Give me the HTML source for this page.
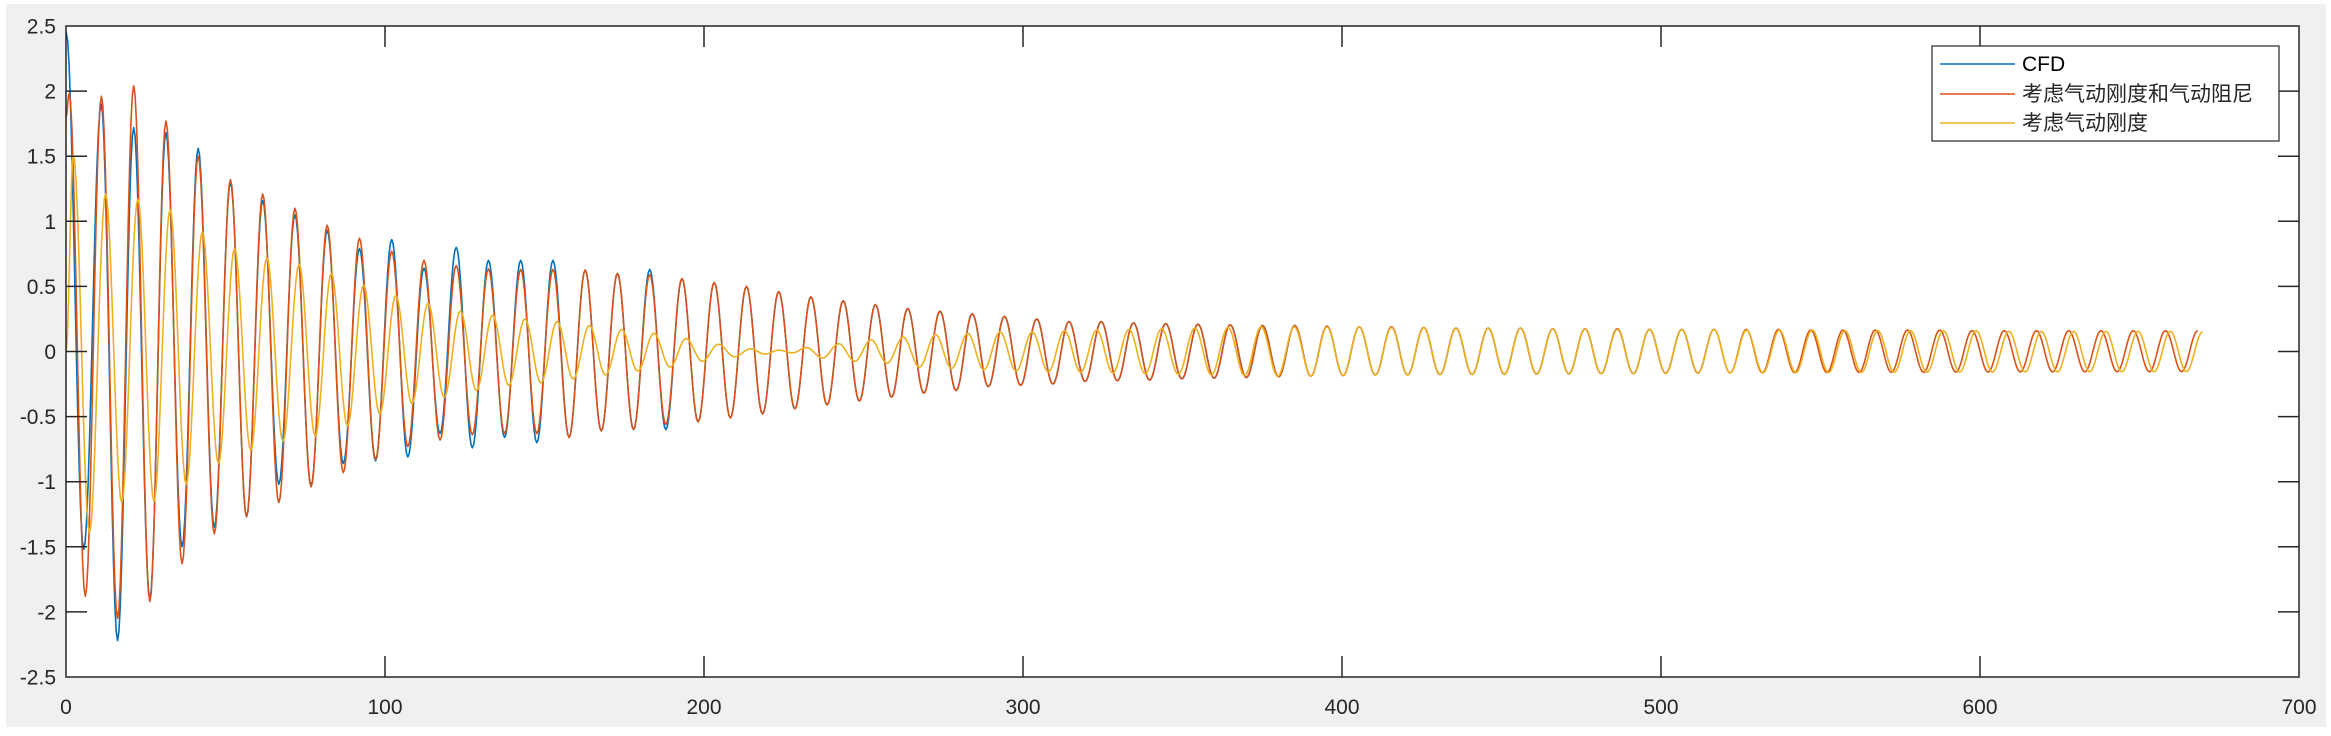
<!DOCTYPE html>
<html><head><meta charset="utf-8"><style>
html,body{margin:0;padding:0;background:#fff;}
svg{display:block;}
text{font-family:"Liberation Sans","Noto Sans CJK SC",sans-serif;}
</style></head><body>
<svg id="chart" width="2331" height="736" viewBox="0 0 2331 736" xmlns="http://www.w3.org/2000/svg">
<rect x="6" y="4" width="2320" height="723" fill="#f0f0f0"/>
<rect x="66" y="26" width="2233" height="651" fill="#fff"/>
<g id="series"></g>
<g id="axes"></g>
<g id="legend">
<rect x="1932" y="46" width="347" height="95" fill="#fff" stroke="#262626" stroke-width="1.2"/>
<line x1="1940" y1="64" x2="2015" y2="64" stroke="#0072BD" stroke-width="1.6"/>
<text x="2022" y="71" font-size="21" fill="#000">CFD</text>
<line x1="1940" y1="94" x2="2015" y2="94" stroke="#D95319" stroke-width="1.6"/>
<text x="2022" y="101" font-size="21" fill="#262626">考虑气动刚度和气动阻尼</text>
<line x1="1940" y1="123" x2="2015" y2="123" stroke="#EDB120" stroke-width="1.6"/>
<text x="2022" y="130" font-size="21" fill="#262626">考虑气动刚度</text>
</g>
</svg>
<script>
// ---- data ----
const xTicks = [0,100,200,300,400,500,600,700];
const yTicks = [-2.5,-2,-1.5,-1,-0.5,0,0.5,1,1.5,2,2.5];
const yTickLabels = ["-2.5","-2","-1.5","-1","-0.5","0","0.5","1","1.5","2","2.5"];
const period = 10.11;
const firstPeak = 1.0;
const tEnd = 670.5;

const redStart = [0, 1.80];
const redPeaks = [1.98,1.96,2.04,1.77,1.50,1.32,1.21,1.10,0.97,0.87,0.77,
 0.70,0.66,0.635,0.63,0.63,0.625,0.60,0.59,0.56,0.53,0.50,0.46,0.42,0.39,0.36,0.33,0.31,0.29,0.27,0.25,0.23,
 0.23,0.22,0.215,0.21,0.205,0.20,0.20,0.195,0.19,0.19,0.185,0.18,0.18,0.18,0.175,0.175,0.175,0.17,0.17,0.17,0.17,0.17,0.165,0.165,0.165,0.165,0.165,0.16,0.16,0.16,0.16,0.16,0.16,0.16,0.16];
const redTroughs = [-1.88,-2.05,-1.92,-1.63,-1.40,-1.27,-1.16,-1.04,-0.93,-0.83,
 -0.73,-0.68,-0.64,-0.63,-0.63,-0.66,-0.61,-0.60,-0.56,-0.54,-0.51,-0.48,-0.44,-0.41,-0.38,-0.35,-0.32,-0.30,-0.27,-0.26,-0.25,-0.23,
 -0.225,-0.22,-0.21,-0.205,-0.20,-0.195,-0.19,-0.185,-0.18,-0.18,-0.178,-0.176,-0.175,-0.174,-0.172,-0.17,-0.17,-0.168,-0.166,-0.165,-0.164,-0.163,-0.162,-0.161,-0.16,-0.16,-0.158,-0.158,-0.157,-0.157,-0.156,-0.156,-0.156,-0.155];
const redLagT = [0, 700];
const redLagV = [0, 0];

const blueStart = [0, 2.45];
const bluePeaks = [2.45,1.90,1.72,1.68,1.56,1.30,1.16,1.05,0.93,0.79,0.86,0.64,0.80,0.70,0.70,0.70,0.625,0.60,0.63,
 0.56,0.53,0.50,0.46,0.42,0.39,0.36,0.33,0.31,0.29,0.27,0.25,0.23,0.23,0.22,0.215,0.21,0.205,0.20,0.20,0.195,0.19,0.19,0.185,0.18,0.18,0.18,0.175,0.175,0.175,0.17,0.17,0.17];
const blueTroughs = [-1.52,-2.22,-1.90,-1.50,-1.35,-1.27,-1.02,-1.03,-0.86,-0.84,-0.81,-0.63,-0.74,-0.66,-0.70,-0.66,-0.61,-0.60,-0.60,
 -0.54,-0.51,-0.48,-0.44,-0.41,-0.38,-0.35,-0.32,-0.30,-0.27,-0.26,-0.25,-0.23,-0.225,-0.22,-0.21,-0.205,-0.20,-0.195,-0.19,-0.185,-0.18,-0.18,-0.178,-0.176,-0.175,-0.174,-0.172,-0.17,-0.17,-0.168,-0.166];
const blueLagT = [0, 12, 700];
const blueLagV = [-1.0, 0, 0];
const blueEnd = 520;

const yellowStart = [0, 0];
const yellowPeaks = [1.51,1.21,1.17,1.09,0.92,0.79,0.72,0.67,0.60,0.51,0.43,0.37,0.31,
 0.28,0.25,0.23,0.20,0.17,0.14,0.10,0.055,0.02,0.01,0.03,0.06,0.09,0.11,0.13,0.14,0.15,0.15,0.16,
 0.165,0.17,0.175,0.18,0.185,0.19,0.19,0.19,0.19,0.185,0.185,0.18,0.18,0.18,0.175,0.175,0.17,0.17,0.17,0.17,0.165,0.165,0.165,0.16,0.16,0.16,0.16,0.16,0.155,0.155,0.155,0.155,0.155,0.155,0.15];
const yellowTroughs = [-1.39,-1.16,-1.15,-1.02,-0.86,-0.76,-0.69,-0.65,-0.57,-0.48,-0.40,-0.35,
 -0.30,-0.26,-0.24,-0.21,-0.18,-0.15,-0.12,-0.075,-0.04,-0.02,-0.01,-0.05,-0.075,-0.09,-0.12,-0.13,-0.14,-0.15,-0.156,-0.16,
 -0.165,-0.17,-0.175,-0.18,-0.185,-0.19,-0.19,-0.185,-0.18,-0.18,-0.178,-0.176,-0.175,-0.174,-0.172,-0.17,-0.17,-0.168,-0.166,-0.165,-0.164,-0.163,-0.162,-0.161,-0.16,-0.16,-0.158,-0.158,-0.157,-0.157,-0.156,-0.156,-0.156,-0.155];
const yellowLagT = [0, 215, 233, 340, 390, 520, 610, 700];
const yellowLagV = [1.3, 1.3, -1.4, -1.4, 0, 0, 1.5, 1.5];

// ---- axes mapping ----
const X0=66, X1=2299, Y0=677, Y1=26;
const xMin=0,xMax=700,yMin=-2.5,yMax=2.5;
function xs(t){return X0+(t-xMin)/(xMax-xMin)*(X1-X0);}
function ys(v){return Y0-(v-yMin)/(yMax-yMin)*(Y0-Y1);}
const NS="http://www.w3.org/2000/svg";

function lagAt(T,V,t){
  if(t<=T[0])return V[0];
  for(let i=1;i<T.length;i++){ if(t<=T[i]){const f=(t-T[i-1])/(T[i]-T[i-1]);return V[i-1]+f*(V[i]-V[i-1]);} }
  return V[V.length-1];
}
function extrema(start,peaks,troughs,lT,lV){
  const pts=[[start[0],start[1]]];
  const n=Math.max(peaks.length,troughs.length);
  for(let k=0;k<n;k++){
    if(k<peaks.length){let t=firstPeak+k*period; t+=lagAt(lT,lV,t); if(t>pts[pts.length-1][0]) pts.push([t,peaks[k]]); else pts[pts.length-1]=[t,peaks[k]];}
    if(k<troughs.length){let t=firstPeak+(k+0.5)*period; t+=lagAt(lT,lV,t); if(t>pts[pts.length-1][0]) pts.push([t,troughs[k]]);}
  }
  return pts;
}
function pathFrom(pts,tStop){
  let d="";
  for(let i=0;i<pts.length-1;i++){
    const [t1,v1]=pts[i],[t2,v2]=pts[i+1];
    const steps=12;
    for(let s=(i===0?0:1);s<=steps;s++){
      const t=t1+(t2-t1)*s/steps;
      if(t>tStop)return d;
      const v=v1+(v2-v1)*(1-Math.cos(Math.PI*s/steps))/2;
      d+=(d?"L":"M")+xs(t).toFixed(2)+","+ys(v).toFixed(2);
    }
  }
  return d;
}
const g=document.getElementById("series");
function drawSeries(name,color,start,peaks,troughs,lT,lV,stop){
  const p=document.createElementNS(NS,"path");
  p.setAttribute("d",pathFrom(extrema(start,peaks,troughs,lT,lV),stop));
  p.setAttribute("fill","none");
  p.setAttribute("stroke",color);
  p.setAttribute("stroke-width","1.6");
  p.setAttribute("stroke-linejoin","round");
  
  
  g.appendChild(p);
}
drawSeries("series-cfd","#0072BD",blueStart,bluePeaks,blueTroughs,blueLagT,blueLagV,blueEnd);
drawSeries("series-stiffness-damping","#D95319",redStart,redPeaks,redTroughs,redLagT,redLagV,tEnd);
drawSeries("series-stiffness","#EDB120",yellowStart,yellowPeaks,yellowTroughs,yellowLagT,yellowLagV,tEnd);

// ---- axes ----
const ax=document.getElementById("axes");
function line(x1,y1,x2,y2,name){
  const l=document.createElementNS(NS,"line");
  l.setAttribute("x1",x1);l.setAttribute("y1",y1);l.setAttribute("x2",x2);l.setAttribute("y2",y2);
  l.setAttribute("stroke","#262626");l.setAttribute("stroke-width","1.5");
  
  
  ax.appendChild(l);
}
function label(x,y,txt,anchor,name){
  const t=document.createElementNS(NS,"text");
  t.setAttribute("x",x);t.setAttribute("y",y);t.setAttribute("text-anchor",anchor);
  t.setAttribute("font-size","21");t.setAttribute("fill","#262626");
  t.textContent=txt;
  
  
  ax.appendChild(t);
}
const TL=21;
xTicks.forEach(v=>{
  const x=xs(v);
  if(v>xMin&&v<xMax){line(x,Y0,x,Y0-TL,"x-tick");line(x,Y1,x,Y1+TL,"x-tick-top");}
  label(x,714,String(v),"middle","x-tick-label");
});
yTicks.forEach((v,i)=>{
  const y=ys(v);
  if(v>yMin&&v<yMax){line(X0,y,X0+TL,y,"y-tick");line(X1,y,X1-TL,y,"y-tick-right");}
  label(56,y+7.5,yTickLabels[i],"end","y-tick-label");
});
const frame=document.createElementNS(NS,"rect");
frame.setAttribute("x",X0);frame.setAttribute("y",Y1);frame.setAttribute("width",X1-X0);frame.setAttribute("height",Y0-Y1);
frame.setAttribute("fill","none");frame.setAttribute("stroke","#262626");frame.setAttribute("stroke-width","1.5");


ax.appendChild(frame);
</script>
</body></html>
